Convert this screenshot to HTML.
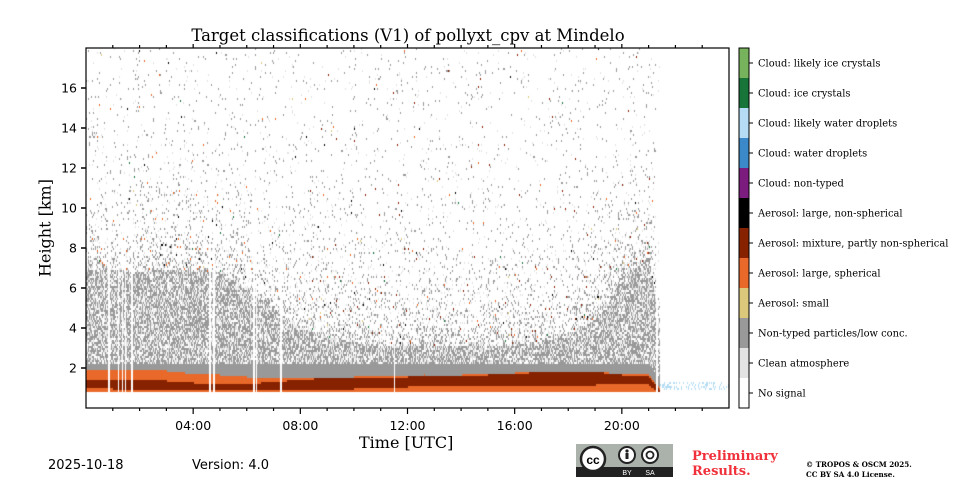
<!DOCTYPE html>
<html><head><meta charset="utf-8">
<style>
body{margin:0;background:#fff;width:960px;height:480px;overflow:hidden;position:relative;font-family:"DejaVu Sans",sans-serif}
.abs{position:absolute}
.serif{font-family:"DejaVu Serif",serif}
</style></head><body>
<div class="abs serif" style="left:0;width:816px;top:26px;text-align:center;font-size:16.5px">Target classifications (V1) of pollyxt_cpv at Mindelo</div>
<canvas id="hm" class="abs" width="643" height="360" style="left:86px;top:48px"></canvas>
<svg id="ax" class="abs" style="left:0;top:0" width="960" height="480"></svg>
<div class="abs serif" style="left:359px;top:433px;font-size:16px">Time [UTC]</div>
<div class="abs serif" style="left:45px;top:228px;font-size:16px;white-space:nowrap;transform:translate(-50%,-50%) rotate(-90deg)">Height [km]</div>
<div class="abs" style="left:48px;top:458px;font-size:13px">2025-10-18</div>
<div class="abs" style="left:192px;top:458px;font-size:13px">Version: 4.0</div>
<svg class="abs" style="left:576px;top:444px" width="97" height="33">
<rect x="0" y="0" width="97" height="33" fill="#aab2ab"/><rect x="0" y="23" width="97" height="10" fill="#222"/>
<circle cx="17" cy="15" r="12" fill="#fff" stroke="#222" stroke-width="2.5"/><text x="17" y="20" text-anchor="middle" font-size="12" font-weight="bold" font-family="Liberation Sans">cc</text>
<circle cx="51" cy="11" r="8" fill="#fff" stroke="#222" stroke-width="2"/><circle cx="51" cy="7" r="1.6" fill="#222"/><rect x="49.5" y="9" width="3" height="6" fill="#222"/>
<circle cx="74" cy="11" r="8" fill="#fff" stroke="#222" stroke-width="2"/><circle cx="74" cy="11" r="3.5" fill="none" stroke="#222" stroke-width="1.8"/>
<text x="51" y="31" text-anchor="middle" font-size="7" fill="#fff" font-family="Liberation Sans">BY</text><text x="74" y="31" text-anchor="middle" font-size="7" fill="#fff" font-family="Liberation Sans">SA</text>
</svg>
<div class="abs serif" style="left:692px;top:449px;font-size:13px;font-weight:bold;color:#f0303a;line-height:15px">Preliminary<br>Results.</div>
<div class="abs serif" style="left:806px;top:460px;font-size:7.2px;font-weight:bold;line-height:10px;white-space:nowrap">© TROPOS &amp; OSCM 2025.<br>CC BY SA 4.0 License.</div>
<script>
// hourly profile data (hours 0..24), heights in km
const hours=[0,1,2,3,4,5,6,7,8,9,10,11,12,13,14,15,16,17,18,19,20,21,22,23,24];
const denseTop=[7.0,7.0,6.8,7.0,7.0,6.8,6.0,5.0,4.0,3.6,3.3,3.2,3.2,3.2,3.2,3.2,3.2,3.4,3.6,4.5,6.5,7.5,0,0,0];
const grayTop=[2.3,2.3,2.3,2.3,2.2,2.2,2.2,2.2,2.3,2.3,2.3,2.3,2.3,2.3,2.3,2.3,2.3,2.3,2.3,2.3,2.3,2.3,0,0,0];
const orangeTop=[2.0,2.0,2.0,1.9,1.75,1.7,1.6,1.6,1.6,1.6,1.6,1.65,1.7,1.7,1.7,1.75,1.8,1.85,1.9,1.85,1.75,1.7,0,0,0];
const darkTop=[1.45,1.45,1.45,1.4,1.3,1.25,1.25,1.35,1.45,1.55,1.55,1.6,1.6,1.65,1.65,1.7,1.75,1.85,1.9,1.85,1.7,1.6,0,0,0];
const darkBottom=[1.05,1.0,1.0,1.0,1.0,1.0,1.0,1.0,1.0,1.0,1.0,1.05,1.1,1.1,1.1,1.1,1.1,1.15,1.15,1.2,1.25,1.2,0,0,0];
const speckleDensity=[0.3,0.3,0.3,0.3,0.28,0.28,0.28,0.28,0.3,0.35,0.35,0.35,0.35,0.35,0.35,0.35,0.35,0.35,0.35,0.35,0.35,0.3,0,0,0];
const gapHours=[0.85,1.2,1.35,1.45,1.7,4.6,4.75,6.25,6.35,7.25,11.5,21.3];
const classNames=["Cloud: likely ice crystals","Cloud: ice crystals","Cloud: likely water droplets","Cloud: water droplets","Cloud: non-typed","Aerosol: large, non-spherical","Aerosol: mixture, partly non-spherical","Aerosol: large, spherical","Aerosol: small","Non-typed particles/low conc.","Clean atmosphere","No signal"];
const classColors=["#77b35c","#17753a","#b5dcf4","#3b89c9","#7c1c7e","#000000","#862200","#e8692a","#dcc87a","#999999","#e3e3e3","#ffffff"];
const yTicks=[2,4,6,8,10,12,14,16];
const xTicks=[4,8,12,16,20];const xTickLabels=["04:00","08:00","12:00","16:00","20:00"];

const X0=86,X1=729,Y0=408,Y1=48,HMAX=18,TMAX=24;
const xs=h=>X0+h/TMAX*(X1-X0), ys=k=>Y0-k/HMAX*(Y0-Y1);
function interp(arr,h){const i=Math.min(23,Math.floor(h));const f=h-i;return arr[i]*(1-f)+arr[i+1]*f;}
function hash(a,b,s){let n=Math.imul(a,0x27d4eb2d)^Math.imul(b,0x165667b1)^Math.imul(s||7,0x9e3779b9);n=Math.imul(n^(n>>>15),0x85ebca6b);n=Math.imul(n^(n>>>13),0xc2b2ae35);n^=n>>>16;return (n>>>0)/4294967296;}

const c=document.getElementById('hm').getContext('2d');
const cw=1,ch=2;
for(let px=0;px<643;px+=cw){
  const h=px/643*TMAX;
  if(gapHours.some(g=>Math.abs(g-h)<0.03))continue;
  const dT=interp(denseTop,h),gT=interp(grayTop,h),oT=interp(orangeTop,h),kT=interp(darkTop,h),kB=interp(darkBottom,h),sd=interp(speckleDensity,h);
  for(let py=0;py<360;py+=ch){
    const km=(360-py)/360*HMAX;
    const r=hash(px,py,1);let col=null;
    if(h>21.4){ if(km<1.3&&km>0.9&&r<0.3)col=classColors[2]; else if(km<1.0&&km>0.9&&r<0.5)col=classColors[7]; }
    else if(km<0.9){}
    else if(km<kB)col=classColors[7];
    else if(km<kT)col=classColors[6];
    else if(km<oT)col=classColors[7];
    else if(km<gT)col=classColors[9];
    else if(km<dT){col=r<0.5?classColors[9]:(r<0.75?classColors[10]:null);}
    else{
      const p=sd*Math.exp(-(km-dT)/2.0)+0.03;
      if(r<p){const q=hash(py,px,2);
        col=q<0.6?classColors[9]:q<0.94?classColors[10]:q<0.965?(h<8?classColors[7]:classColors[6]):q<0.978?classColors[7]:q<0.99?classColors[5]:q<0.995?classColors[1]:classColors[8];}
    }
    if(col){c.fillStyle=col;c.fillRect(px,py,cw,ch);}
  }
}

const NS='http://www.w3.org/2000/svg',ax=document.getElementById('ax');
function el(t,a,txt){const e=document.createElementNS(NS,t);for(const k in a)e.setAttribute(k,a[k]);if(txt!==undefined)e.textContent=txt;ax.appendChild(e);return e;}
const frame=el('rect',{x:X0,y:Y1,width:X1-X0,height:Y0-Y1,fill:'none',stroke:'#000','stroke-width':1.2});


yTicks.forEach(v=>{const y=ys(v);
  const t=el('line',{x1:X0-5,x2:X0,y1:y,y2:y,stroke:'#000','stroke-width':1.5});
  
  
  const l=el('text',{x:X0-9,y:y+4.5,'text-anchor':'end','font-size':12.5,'font-family':'DejaVu Sans'},String(v));
  
  
});
for(let hh=1;hh<24;hh++){const x=xs(hh);const major=hh%4===0;
  const t=el('line',{x1:x,x2:x,y1:Y0,y2:Y0+(major?6:3),stroke:'#000','stroke-width':1.2});
  
  
  const t2=el('line',{x1:x,x2:x,y1:Y1,y2:Y1-(major?4:3),stroke:'#000','stroke-width':1.2});
  
  
}
xTicks.forEach((v,i)=>{
  const l=el('text',{x:xs(v),y:Y0+22,'text-anchor':'middle','font-size':12.5,'font-family':'DejaVu Sans'},xTickLabels[i]);
  
  
});
// colorbar
const cbX=739,cbW=10,segH=30;
classNames.forEach((n,i)=>{
  const y=48+i*segH;
  const r=el('rect',{x:cbX,y:y,width:cbW,height:segH,fill:classColors[i]});
  
  
  const t=el('line',{x1:cbX+cbW,x2:cbX+cbW+4,y1:y+15,y2:y+15,stroke:'#000'});
  
  
  const l=el('text',{x:758,y:y+18.5,'font-size':9.9,'font-family':'DejaVu Serif'},n);
  
  
});
const cbf=el('rect',{x:cbX,y:48,width:cbW,height:360,fill:'none',stroke:'#000','stroke-width':1});


</script>
</body></html>
